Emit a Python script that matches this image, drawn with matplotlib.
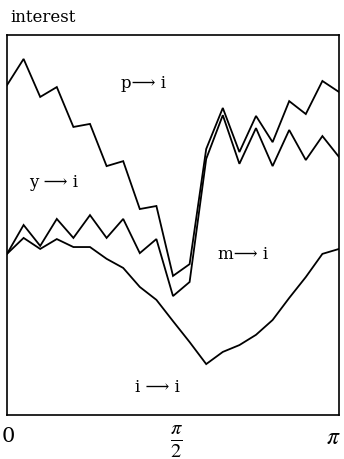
import numpy as np
import matplotlib
matplotlib.use("Agg")
import matplotlib.pyplot as plt
import matplotlib.transforms as mtransforms

plt.rcParams['font.family'] = ['DejaVu Serif', 'DejaVu Sans', 'Liberation Serif']
plt.rcParams['mathtext.fontset'] = 'stix'

# Frequency grid from 0 to pi (21 points)
n_points = 21

# Cumulative shares of the interest-rate spectrum by source
share_i = [0.424, 0.466, 0.437, 0.463, 0.442, 0.442, 0.411, 0.387, 0.337, 0.303,
           0.247, 0.192, 0.134, 0.166, 0.184, 0.211, 0.250, 0.308, 0.363, 0.424, 0.437]
share_i_m = [0.424, 0.500, 0.445, 0.516, 0.466, 0.526, 0.466, 0.516, 0.426, 0.463,
             0.313, 0.350, 0.674, 0.789, 0.661, 0.755, 0.655, 0.750, 0.671, 0.734, 0.679]
share_i_m_y = [0.868, 0.937, 0.837, 0.863, 0.758, 0.766, 0.655, 0.668, 0.542, 0.550,
               0.366, 0.397, 0.700, 0.808, 0.692, 0.787, 0.718, 0.826, 0.792, 0.879, 0.850]

region_labels = ["i ⟶ i", "m⟶ i", "y ⟶ i", "p⟶ i"]
tick_values = [0, np.pi / 2, np.pi]
tick_labels = ["0", r"$\frac{\pi}{2}$", r"$\pi$"]

freq = np.linspace(0, np.pi, n_points)

fig = plt.figure(figsize=(3.44, 4.6), dpi=100)
ax = fig.add_axes([7/344, 44/460, 332/344, 380/460])

for series in (share_i, share_i_m, share_i_m_y):
    ax.plot(freq, series, color='black', lw=1.3, solid_joinstyle='miter')

ax.set_xlim(0, np.pi)
ax.set_ylim(0, 1)
ax.set_yticks([])
ax.set_xticks(tick_values)
ax.set_xticklabels([""] * len(tick_values))
ax.tick_params(axis='x', length=0)
for sp in ax.spines.values():
    sp.set_linewidth(1.2)

# Tick labels drawn below the axis at the tick positions
xform = ax.get_xaxis_transform()
tick_style = [
    dict(fontsize=15, y=-0.055, dx=1),
    dict(fontsize=21, y=-0.068, dx=3),
    dict(fontsize=17, y=-0.057, dx=-6),
]
for val, txt, st in zip(tick_values, tick_labels, tick_style):
    off = mtransforms.offset_copy(xform, fig=fig, x=st['dx'], y=0, units='dots')
    ax.text(val, st['y'], txt, transform=off, ha='center', va='center',
            fontsize=st['fontsize'], clip_on=False)

# Region labels, placed in axes data coordinates
label_pos = [(0.452, 0.075), (0.71, 0.425), (0.14, 0.615), (0.41, 0.875)]
for (xf, yf), txt in zip(label_pos, region_labels):
    ax.text(xf * np.pi, yf, txt, ha='center', va='center', fontsize=12)

fig.text(10/344, 1 - 17/460, "interest", ha='left', va='center', fontsize=12)

fig.savefig("out.png", dpi=100)
